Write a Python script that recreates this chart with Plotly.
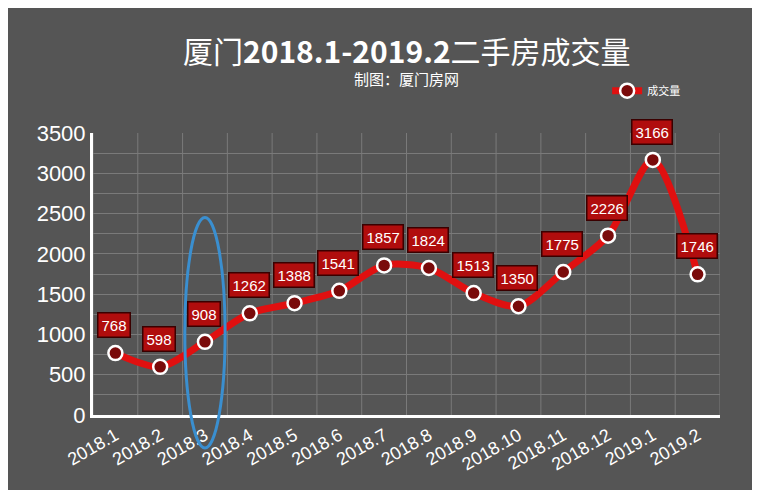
import plotly.graph_objects as go

months = ["2018.1", "2018.2", "2018.3", "2018.4", "2018.5", "2018.6", "2018.7",
          "2018.8", "2018.9", "2018.10", "2018.11", "2018.12", "2019.1", "2019.2"]
volume = [768, 598, 908, 1262, 1388, 1541, 1857, 1824, 1513, 1350, 1775, 2226, 3166, 1746]
idx = list(range(len(months)))

fig = go.Figure()
fig.add_trace(go.Scatter(
    x=idx, y=volume, name="成交量", mode="lines+markers",
    line=dict(color="#e01010", width=7, shape="spline", smoothing=0.8),
    marker=dict(size=14, color="#7a0a0a", line=dict(color="white", width=2.5)),
    cliponaxis=False,
))

for i, v in zip(idx, volume):
    fig.add_annotation(
        x=i, y=v, text=str(v), showarrow=False, yshift=28, xshift=-1,
        font=dict(family="Liberation Sans, Arial", size=15, color="white"),
        bgcolor="#b00d0d", bordercolor="#3a0000", borderwidth=1.5, borderpad=3,
    )

# title and subtitle
fig.add_annotation(x=0.5, y=1.294, xref="paper", yref="paper", xanchor="center", yanchor="middle",
                   text="厦门<b>2018.1-2019.2</b>二手房成交量", showarrow=False,
                   font=dict(family="Noto Sans CJK SC, Liberation Sans", size=30, color="white"))
fig.add_annotation(x=0.5, y=1.195, xref="paper", yref="paper", xanchor="center", yanchor="middle",
                   text="制图：厦门房网", showarrow=False,
                   font=dict(family="Noto Sans CJK SC", size=15, color="white"))

# blue ellipse around 2018.3
fig.add_shape(type="circle", xref="x", yref="paper",
              x0=1.55, x1=2.45, y0=-0.117, y1=0.70,
              line=dict(color="#3a8fd0", width=3))

# vertical grid lines at category boundaries
for b in [k + 0.5 for k in range(-1, 14)]:
    fig.add_shape(type="line", xref="x", yref="y", x0=b, x1=b, y0=0, y1=3500,
                  line=dict(color="#7a7a7a", width=1), layer="below")

fig.update_layout(
    width=760, height=490,
    paper_bgcolor="#555555", plot_bgcolor="#555555",
    margin=dict(l=85, r=48, t=125, b=83),
    showlegend=True,
    legend=dict(x=0.82, y=1.15, xanchor="left", yanchor="middle",
                font=dict(family="Noto Sans CJK SC", size=11, color="white"),
                bgcolor="rgba(0,0,0,0)"),
    xaxis=dict(tickvals=idx, ticktext=months, range=[-0.5, 13.5], tickangle=-30,
               tickfont=dict(family="Liberation Sans, Arial", size=18, color="white"),
               showgrid=False, zeroline=False, showline=True, linecolor="white", linewidth=3),
    yaxis=dict(range=[0, 3500], dtick=500, tickfont=dict(family="Liberation Sans, Arial", size=22, color="white"),
               gridcolor="#7a7a7a", zeroline=False, showline=True, linecolor="white", linewidth=3,
               minor=dict(dtick=250, showgrid=True, gridcolor="#7a7a7a")),
)

fig.write_html("out.html")
